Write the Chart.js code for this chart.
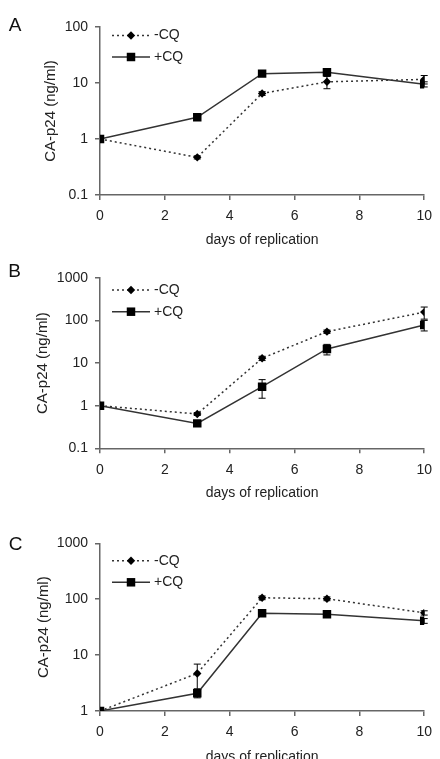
<!DOCTYPE html>
<html><head><meta charset="utf-8">
<script src="https://cdn.jsdelivr.net/npm/chart.js@4.4.0/dist/chart.umd.min.js"></script>
<style>
html,body{margin:0;padding:0;background:#fff;overflow:hidden;width:440px;height:759px;}
canvas{position:absolute;left:0;}
</style></head><body>
<canvas id="cA" width="440" height="250" style="top:0px"></canvas>
<canvas id="cB" width="440" height="260" style="top:250px"></canvas>
<canvas id="cC" width="440" height="260" style="top:510px"></canvas>
<script>
// ---- data ----
const days = [0, 3, 5, 7, 10];
const xTickValues = [0, 2, 4, 6, 8, 10];
const seriesNames = ['-CQ', '+CQ'];

const A_minusCQ = [1, 0.47, 6.5, 10.5, 11.6];
const A_minusErr = [0, 0.03, 0.5, 2.6, 2.0];
const A_plusCQ = [1, 2.44, 14.7, 15.5, 9.5];
const A_plusErr = [0, 0.2, 1.0, 1.5, 1.0];
const A_yTicks = [0.1, 1, 10, 100];

const B_minusCQ = [1, 0.64, 13, 55, 158];
const B_minusErr = [0, 0.05, 1.5, 5, 50];
const B_plusCQ = [1, 0.385, 2.8, 21.6, 79];
const B_plusErr = [0, 0.03, 1.3, 6, 22];
const B_yTicks = [0.1, 1, 10, 100, 1000];

const C_minusCQ = [1, 4.7, 106, 102, 57];
const C_minusErr = [0, 2.2, 8, 8, 5];
const C_plusCQ = [1, 2.07, 56, 54, 41];
const C_plusErr = [0, 0.35, 4, 4, 4];
const C_yTicks = [1, 10, 100, 1000];

// ---- styling ----
const FAMILY = '"Liberation Sans", Arial, sans-serif';
const FONT = {family: FAMILY, size: 14};
const YTITLE_FONT = {family: FAMILY, size: 15};
const TEXT = '#222';
const AXIS = '#666';

function drawMarker(ctx, style, r, x, y) {
  ctx.beginPath();
  if (style === 'rect') {
    const s = r * Math.SQRT1_2;
    ctx.rect(x - s, y - s, 2 * s, 2 * s);
  } else {
    ctx.moveTo(x, y - r); ctx.lineTo(x + r, y); ctx.lineTo(x, y + r); ctx.lineTo(x - r, y); ctx.closePath();
  }
  ctx.fill();
}

const errorBars = {
  id: 'errorBars',
  beforeDatasetsDraw(chart) {
    const ctx = chart.ctx, ys = chart.scales.y;
    ctx.save();
    ctx.strokeStyle = '#000';
    ctx.lineWidth = 1;
    chart.data.datasets.forEach((ds, i) => {
      const meta = chart.getDatasetMeta(i);
      ds.errors.forEach((e, j) => {
        if (!e) return;
        const v = ds.data[j].y;
        const px = meta.data[j].x;
        const yt = ys.getPixelForValue(v + e);
        const yb = ys.getPixelForValue(Math.max(v - e, ys.min));
        ctx.beginPath();
        ctx.moveTo(px, yt); ctx.lineTo(px, yb);
        ctx.moveTo(px - 3.5, yt); ctx.lineTo(px + 3.5, yt);
        ctx.moveTo(px - 3.5, yb); ctx.lineTo(px + 3.5, yb);
        ctx.stroke();
      });
    });
    ctx.restore();
  }
};

const lineLegend = {
  id: 'lineLegend',
  afterDraw(chart, args, opts) {
    const ctx = chart.ctx;
    ctx.save();
    chart.data.datasets.forEach((ds, i) => {
      const y = opts.rows[i];
      ctx.strokeStyle = ds.borderColor;
      ctx.lineWidth = ds.borderWidth;
      ctx.setLineDash(ds.borderDash || []);
      ctx.beginPath(); ctx.moveTo(opts.x1, y); ctx.lineTo(opts.x2, y); ctx.stroke();
      ctx.setLineDash([]);
      ctx.fillStyle = '#000';
      drawMarker(ctx, ds.pointStyle, ds.pointRadius, (opts.x1 + opts.x2) / 2, y);
      ctx.fillStyle = TEXT;
      ctx.font = FONT.size + 'px ' + FAMILY;
      ctx.textBaseline = 'middle';
      ctx.textAlign = 'left';
      ctx.fillText(ds.label, opts.x2 + 4, y);
    });
    ctx.restore();
  }
};

const panelLetter = {
  id: 'panelLetter',
  afterDraw(chart, args, opts) {
    const ctx = chart.ctx;
    ctx.save();
    ctx.fillStyle = '#111';
    ctx.font = '19px ' + FAMILY;
    ctx.textAlign = 'center';
    ctx.textBaseline = 'middle';
    ctx.fillText(opts.text, opts.x, opts.y);
    ctx.restore();
  }
};

function toPoints(vals) { return days.map((d, i) => ({x: d, y: vals[i]})); }

function makePanel(id, p) {
  const canvas = document.getElementById(id);
  const H = canvas.height;
  new Chart(canvas, {
    type: 'line',
    data: {
      datasets: [
        {label: seriesNames[0], data: toPoints(p.minus), errors: p.minusErr,
         borderColor: '#333', borderWidth: 1.5, borderDash: [2, 3],
         pointStyle: 'rectRot', pointRadius: 4.2, pointBackgroundColor: '#000', pointBorderColor: '#000', pointBorderWidth: 0,
         tension: 0, fill: false},
        {label: seriesNames[1], data: toPoints(p.plus), errors: p.plusErr,
         borderColor: '#333', borderWidth: 1.5,
         pointStyle: 'rect', pointRadius: 6, pointBackgroundColor: '#000', pointBorderColor: '#000', pointBorderWidth: 0,
         tension: 0, fill: false}
      ]
    },
    options: {
      responsive: false, animation: false, devicePixelRatio: 1,
      layout: {padding: {top: p.padTop, right: p.padRight, left: 0, bottom: 0}},
      plugins: {
        legend: {display: false}, tooltip: {enabled: false},
        lineLegend: {x1: 112, x2: 150, rows: p.legendRows},
        panelLetter: p.letter
      },
      scales: {
        x: {
          type: 'linear', min: 0, max: 10,
          afterBuildTicks: s => { s.ticks = xTickValues.map(v => ({value: v})); },
          afterFit: s => { s.height = H - p.chartBottom; },
          ticks: {font: FONT, color: TEXT, padding: 8, maxRotation: 0},
          grid: {drawOnChartArea: false, drawTicks: true, tickLength: 5, color: AXIS, lineWidth: 1.5},
          border: {display: true, color: AXIS, width: 1.5},
          title: {display: true, text: 'days of replication', font: FONT, color: TEXT,
                  padding: {top: 0, bottom: H - p.xTitleY - 8.4}}
        },
        y: {
          type: 'logarithmic', min: p.yTicks[0], max: p.yTicks[p.yTicks.length - 1],
          afterBuildTicks: s => { s.ticks = p.yTicks.map(v => ({value: v})); },
          afterFit: s => { s.width = 100; },
          ticks: {font: FONT, color: TEXT, padding: 7, callback: v => String(v)},
          grid: {drawOnChartArea: false, drawTicks: true, tickLength: 5, color: AXIS, lineWidth: 1.5},
          border: {display: true, color: AXIS, width: 1.5},
          title: {display: true, text: 'CA-p24 (ng/ml)', font: YTITLE_FONT, color: TEXT,
                  padding: {top: p.yTitleX - 9, bottom: 0}}
        }
      }
    },
    plugins: [errorBars, lineLegend, panelLetter]
  });
}

makePanel('cA', {
  minus: A_minusCQ, minusErr: A_minusErr, plus: A_plusCQ, plusErr: A_plusErr, yTicks: A_yTicks,
  padTop: 27, padRight: 9, chartBottom: 195, xTitleY: 240, yTitleX: 50.5,
  legendRows: [35.5, 57], letter: {text: 'A', x: 15, y: 26}
});
makePanel('cB', {
  minus: B_minusCQ, minusErr: B_minusErr, plus: B_plusCQ, plusErr: B_plusErr, yTicks: B_yTicks,
  padTop: 28, padRight: 11.7, chartBottom: 198.3, xTitleY: 243, yTitleX: 43,
  legendRows: [40, 61.7], letter: {text: 'B', x: 14.5, y: 21.5}
});
makePanel('cC', {
  minus: C_minusCQ, minusErr: C_minusErr, plus: C_plusCQ, plusErr: C_plusErr, yTicks: C_yTicks,
  padTop: 33.3, padRight: 12.3, chartBottom: 201, xTitleY: 247.5, yTitleX: 43.5,
  legendRows: [50.7, 72.3], letter: {text: 'C', x: 15.5, y: 34.5}
});
</script>
</body></html>
